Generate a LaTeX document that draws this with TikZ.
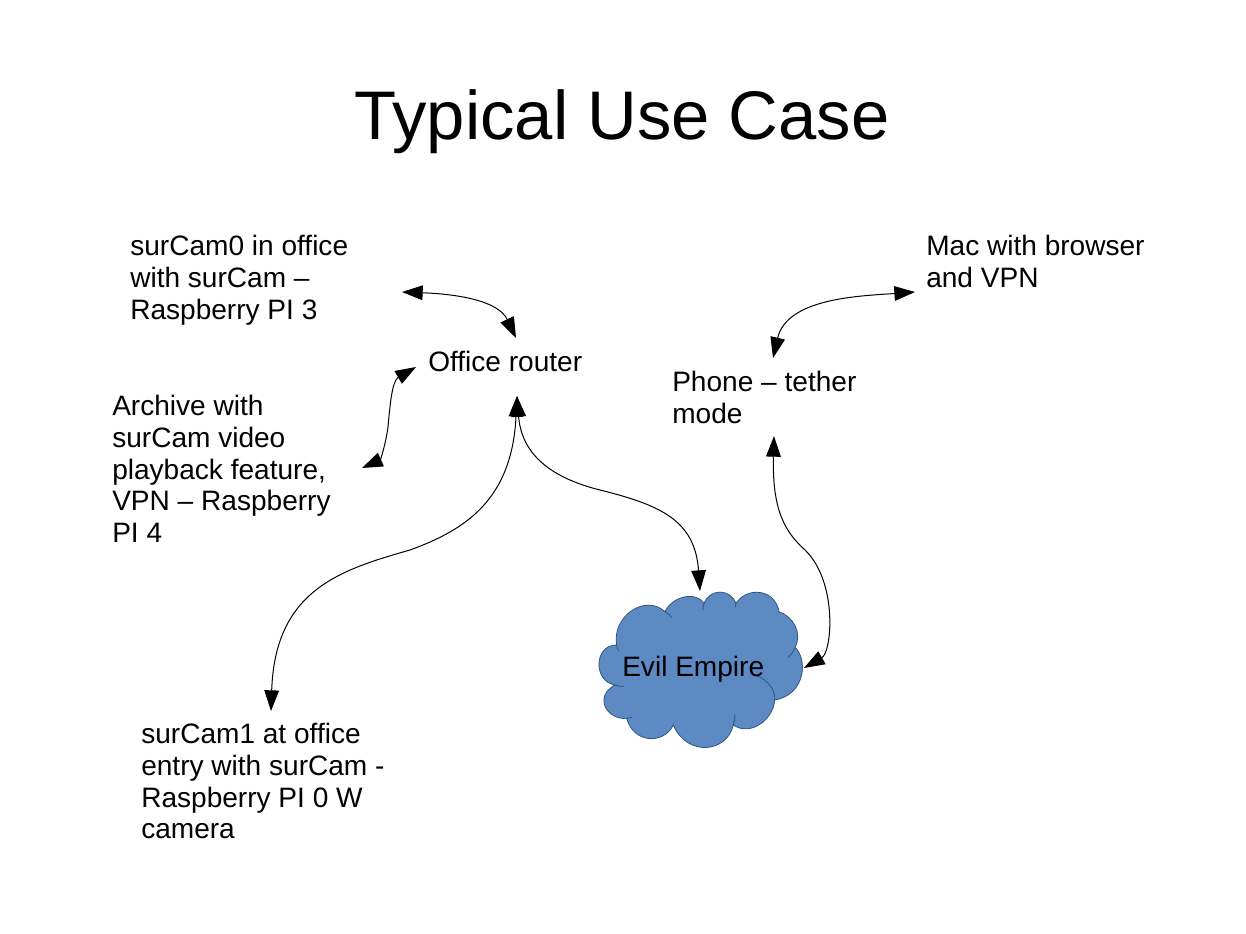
\documentclass[tikz,border=0pt]{standalone}
\usepackage{fontspec}
\setmainfont{Liberation Sans}
\usetikzlibrary{arrows.meta}
\begin{document}
\begin{tikzpicture}[x=0.75pt,y=-0.75pt,
  lbl/.style={anchor=north west,inner sep=0pt,align=left,font=\fontsize{21.05}{23.8}\selectfont},
  link/.style={draw=black,line width=0.75pt,{Triangle[length=15.5pt,width=11pt]}-{Triangle[length=15.5pt,width=11pt]}},
  cloudedge/.style={draw=cloudline,line width=0.6pt}]
\definecolor{cloudfill}{HTML}{5E8AC4}
\definecolor{cloudline}{HTML}{2F5480}
\useasboundingbox (0,0) rectangle (1246,934);
\fill[white] (0,0) rectangle (1246,934);
% title
\node[anchor=base,inner sep=0pt,font=\fontsize{51.6}{60}\selectfont] (title) at (622,140) {Typical Use Case};
% cloud
\begin{scope}[shift={(580,570)},x=0.25pt,y=-0.25pt]
\path[fill=cloudfill,cloudedge] (110,225)
  .. controls (95,140) and (195,70) .. (255,125)
  .. controls (280,75) and (350,65) .. (372,100)
  .. controls (390,55) and (450,55) .. (468,100)
  .. controls (500,50) and (585,55) .. (597,125)
  .. controls (640,140) and (668,190) .. (645,232)
  .. controls (685,270) and (675,375) .. (584,390)
  .. controls (580,450) and (510,500) .. (460,465)
  .. controls (440,550) and (320,560) .. (280,465)
  .. controls (250,525) and (160,520) .. (140,445)
  .. controls (80,450) and (40,380) .. (105,345)
  .. controls (40,335) and (40,225) .. (110,225) -- cycle;
\draw[cloudedge] (110,225) .. controls (111,232) and (113,238) .. (116,243);
\draw[cloudedge] (255,125) .. controls (262,130) and (270,135) .. (275,142);
\draw[cloudedge] (372,100) .. controls (370,106) and (369,112) .. (369,120);
\draw[cloudedge] (468,100) .. controls (466,104) and (465,108) .. (465,113);
\draw[cloudedge] (645,232) .. controls (640,245) and (634,255) .. (624,262);
\draw[cloudedge] (584,390) .. controls (588,365) and (565,330) .. (532,318);
\draw[cloudedge] (460,465) .. controls (463,455) and (465,445) .. (465,432);
\draw[cloudedge] (140,445) .. controls (146,445) and (150,444) .. (156,442);
\draw[cloudedge] (105,345) .. controls (112,348) and (122,350) .. (132,349);
\end{scope}
% labels
\node[lbl] (cam0) at (130,235) {surCam0 in office\\with surCam –\\Raspberry PI 3};
\node[lbl] (mac) at (926,235) {Mac with browser\\and VPN};
\node[lbl] (router) at (428,351) {Office router};
\node[lbl] (phone) at (672,371) {Phone – tether\\mode};
\node[lbl] (archive) at (112,395) {Archive with\\surCam video\\playback feature,\\VPN – Raspberry\\PI 4};
\node[lbl] (cam1) at (141,723) {surCam1 at office\\entry with surCam -\\Raspberry PI 0 W\\camera};
\node[lbl] (evil) at (622,656) {Evil Empire};
% connector ends
\coordinate (a0) at (402,292);
\coordinate (r0) at (516,338);
\coordinate (r1) at (416,367);
\coordinate (a1) at (362,468);
\coordinate (r2) at (517,396);
\coordinate (c1) at (271,711);
\coordinate (e0) at (700,591);
\coordinate (m0) at (915,292);
\coordinate (p0) at (773,358);
\coordinate (p1) at (774,436);
\coordinate (e1) at (804,668);
% connectors
\path[link] (a0) .. controls (455,294) and (498,300) .. (r0);
\path[link] (r1) .. controls (392,381) and (390,405) .. (388,427) .. controls (385,448) and (380,460) .. (a1);
\path[link] (r2) .. controls (512,500) and (465,530) .. (410,550) .. controls (340,570) and (275,590) .. (c1);
\path[link] (r2) .. controls (522,460) and (560,480) .. (600,490) .. controls (660,505) and (695,520) .. (e0);
\path[link] (m0) .. controls (860,296) and (787,298) .. (p0);
\path[link] (p1) .. controls (772,510) and (785,532) .. (805,550) .. controls (838,582) and (832,652) .. (e1);
\end{tikzpicture}
\end{document}
